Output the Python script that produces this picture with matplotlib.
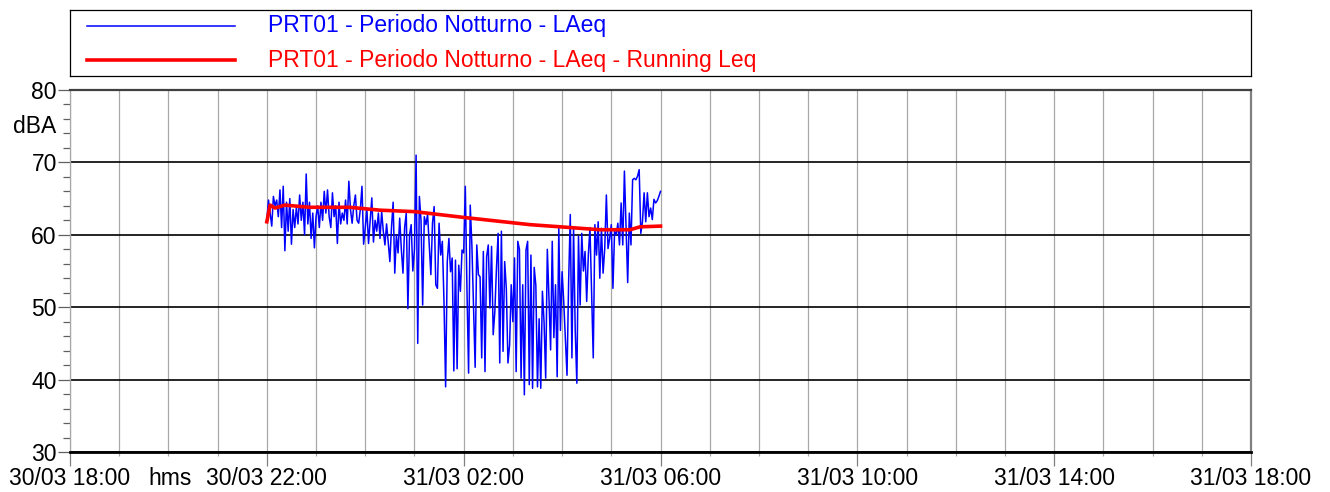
import pandas as pd
import numpy as np
import matplotlib
matplotlib.use('Agg')
import matplotlib.pyplot as plt
import matplotlib.dates as mdates

plt.rcParams['font.family'] = ['Liberation Sans', 'DejaVu Sans']
FS = 16.5

# LAeq, one value every 2 minutes from 30/03 22:00
laeq_22 = [62.0, 64.8, 63.0, 61.2, 65.3, 64.0, 64.8, 62.5, 66.2, 61.0,
           66.7, 57.8, 64.5, 60.5, 65.0, 58.7, 63.5, 61.0, 63.8, 61.5,
           65.5, 62.0, 64.5, 60.0, 68.4, 61.5, 64.5, 59.5, 63.0, 58.2]
laeq_23 = [62.5, 64.0, 61.0, 64.5, 62.0, 66.0, 63.0, 66.2, 62.5, 61.0,
           65.8, 62.5, 64.0, 58.8, 64.5, 61.5, 63.0, 62.0, 64.8, 61.5,
           67.4, 63.5, 61.6, 64.0, 65.5, 62.0, 61.6, 63.5, 66.7, 58.7]
laeq_00 = [61.0, 63.5, 58.8, 62.0, 65.1, 59.0, 62.0, 60.5, 63.0, 59.5,
           63.2, 60.5, 58.6, 61.5, 59.0, 56.3, 61.0, 64.5, 54.7, 60.0,
           57.5, 62.3, 58.0, 54.7, 61.0, 63.0, 49.8, 60.0, 61.4, 55.0]
laeq_01 = [58.0, 71.0, 45.0, 65.3, 62.0, 50.3, 62.5, 61.4, 62.8, 58.6,
           54.5, 61.6, 63.9, 53.1, 52.6, 61.6, 57.2, 59.1, 50.8, 39.0,
           56.3, 59.5, 54.9, 56.8, 41.2, 56.5, 41.5, 55.8, 52.2, 57.9]
laeq_02 = [57.5, 66.7, 52.6, 40.9, 64.1, 58.6, 50.3, 41.7, 58.6, 54.5,
           54.2, 43.0, 57.7, 41.1, 57.0, 58.6, 49.9, 58.4, 46.2, 49.4,
           55.4, 60.2, 42.3, 60.5, 43.9, 56.3, 52.6, 42.3, 44.8, 53.1]
laeq_03 = [48.0, 56.8, 41.1, 59.1, 58.0, 40.2, 53.1, 37.9, 57.9, 59.1,
           39.3, 57.2, 38.8, 55.5, 53.0, 39.0, 48.4, 38.8, 52.2, 48.0,
           40.2, 58.0, 51.3, 44.1, 59.1, 45.8, 53.1, 40.4, 60.9, 46.8]
laeq_04 = [54.9, 50.8, 45.8, 40.6, 53.6, 62.8, 43.0, 60.9, 46.9, 39.5,
           59.8, 50.3, 60.2, 55.0, 57.7, 50.8, 57.2, 61.0, 52.2, 43.0,
           61.4, 57.2, 61.8, 54.0, 60.9, 54.7, 58.1, 65.5, 58.1, 59.5]
laeq_05 = [61.4, 52.6, 60.5, 60.0, 61.6, 58.6, 64.4, 58.6, 68.8, 60.9,
           53.4, 63.0, 58.6, 67.6, 67.8, 67.6, 68.1, 69.0, 60.2, 61.8,
           65.8, 61.8, 65.8, 62.5, 63.7, 62.1, 64.9, 64.4, 64.7, 65.3,
           66.0]

# Running Leq, minutes after 22:00
run_min = [0, 4, 10, 22, 52, 101, 138, 180, 240, 321, 358, 406, 443, 455, 480]
run_leq = [61.8, 64.1, 63.7, 64.1, 63.8, 63.8, 63.4, 63.2, 62.4, 61.4,
           61.1, 60.7, 60.7, 61.1, 61.2]

laeq = laeq_22 + laeq_23 + laeq_00 + laeq_01 + laeq_02 + laeq_03 + laeq_04 + laeq_05
start = pd.Timestamp('2021-03-30 22:00')
t_laeq = pd.date_range(start, periods=len(laeq), freq='2min')
t_run = start + pd.to_timedelta(run_min, unit='min')

lbl_laeq = 'PRT01 - Periodo Notturno - LAeq'
lbl_run = 'PRT01 - Periodo Notturno - LAeq - Running Leq'

fig = plt.figure(figsize=(13.3, 4.92), dpi=100)
ax = fig.add_axes([70 / 1330, 1 - 452 / 492, 1181 / 1330, 362 / 492])

ax.plot(t_laeq, laeq, color='#0000ff', lw=1.1, zorder=3)
ax.plot(t_run, run_leq, color='#ff0000', lw=2.6, zorder=4)

ax.set_xlim(pd.Timestamp('2021-03-30 18:00'), pd.Timestamp('2021-03-31 18:00'))
ax.set_ylim(30, 80)
ax.set_yticks(np.arange(30, 81, 10))
ax.set_yticks(np.arange(30, 81, 2), minor=True)
ax.xaxis.set_major_locator(mdates.HourLocator(byhour=[2, 6, 10, 14, 18, 22]))
ax.xaxis.set_minor_locator(mdates.HourLocator())
ax.xaxis.set_major_formatter(mdates.DateFormatter('%d/%m %H:%M'))

ax.grid(which='both', axis='x', color='#a8a8a8', lw=0.9)
ax.grid(which='major', axis='y', color='black', lw=1.2)
ax.set_axisbelow(True)

# tick lengths in points (px * 0.72)
ax.tick_params(axis='x', which='major', length=10, width=0.9, color='#808080',
               labelsize=FS, pad=0.5)
ax.tick_params(axis='x', which='minor', length=3, width=0.9, color='#a8a8a8')
ax.tick_params(axis='y', which='major', length=9, width=0.9, color='#606060',
               labelsize=FS, pad=0.5)
ax.tick_params(axis='y', which='minor', length=5, width=0.9, color='#606060')

ax.spines['bottom'].set_color('black')
ax.spines['bottom'].set_linewidth(2)
ax.spines['top'].set_color('#404040')
ax.spines['top'].set_linewidth(1.6)
ax.spines['right'].set_color('#808080')
ax.spines['right'].set_linewidth(1.6)
ax.spines['left'].set_color('#a8a8a8')
ax.spines['left'].set_linewidth(0.9)

ax.text(0.0847, -0.072, 'hms', transform=ax.transAxes, fontsize=FS,
        ha='center', va='center')
ax.text(-0.012, 0.898, 'dBA', transform=ax.transAxes, fontsize=FS,
        ha='right', va='center')

# legend box above the plot
lg = fig.add_axes([70 / 1330, 1 - 76 / 492, 1181 / 1330, 66 / 492])
lg.set_xlim(0, 1)
lg.set_ylim(0, 1)
lg.set_xticks([])
lg.set_yticks([])
for s in lg.spines.values():
    s.set_color('black')
    s.set_linewidth(0.9)
lg.plot([0.0144, 0.1397], [0.758, 0.758], color='#0000ff', lw=1.1)
lg.plot([0.0144, 0.1397], [0.242, 0.242], color='#ff0000', lw=2.6)
lg.text(0.1677, 0.758, lbl_laeq, color='#0000ff', fontsize=FS, va='center')
lg.text(0.1677, 0.242, lbl_run, color='#ff0000', fontsize=FS, va='center')

fig.savefig('out.png', dpi=100)
